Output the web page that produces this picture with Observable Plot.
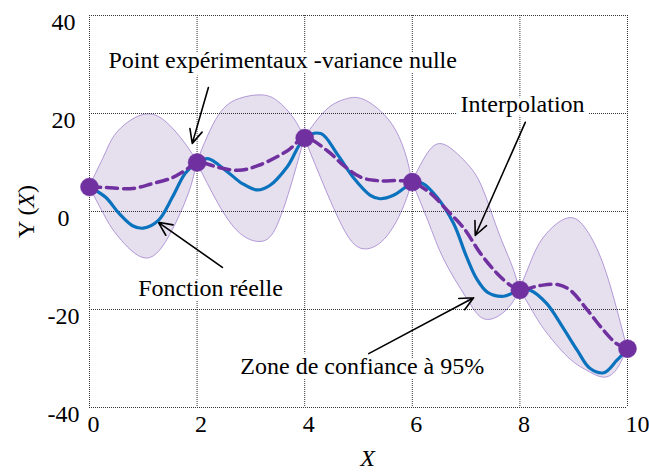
<!DOCTYPE html>
<html>
<head>
<meta charset="utf-8">
<script src="https://cdn.jsdelivr.net/npm/d3@7"></script>
<script src="https://cdn.jsdelivr.net/npm/@observablehq/plot@0.6"></script>
<style>
  html, body { margin: 0; padding: 0; background: white; }
  svg text { font-family: 'Liberation Serif', 'Times New Roman', serif; }
</style>
</head>
<body>
<div id="chart"></div>
<script>
// Experimental points
const pointsX = [0, 2, 4, 6, 8, 10];
const pointsY = [5, 10, 15, 6, -16, -28];

// Real function (blue)
const realX = [0,0.3,0.55,0.8,1.0,1.28,1.54,1.78,2,2.2,2.53,2.84,3.12,3.35,3.68,4,4.3,4.6,4.9,5.22,5.4,5.65,5.84,6,6.2,6.46,6.77,7.0,7.2,7.4,7.7,8,8.2,8.5,8.8,9.07,9.3,9.56,9.8,10];
const realY = [5,2.9,-0.4,-2.9,-3.4,-1.8,2.9,7.8,10,10.8,8.4,5.7,4.4,5.3,9.2,15,15.9,11.8,7,3.3,2.6,3.3,4.7,6,5.7,2.9,-2.5,-9,-13.8,-16.5,-17.3,-16,-16.1,-18.8,-23.7,-28.4,-32,-32.9,-30.4,-28];

// Interpolation (purple dashed)
const interpX = [0,0.3,0.8,1.17,1.54,1.78,2,2.4,2.77,3.14,3.68,4,4.42,4.72,5.04,5.35,5.78,6,6.34,6.65,6.95,7.27,7.58,7.83,8,8.38,8.7,8.94,9.26,9.56,9.8,10];
const interpY = [5,4.9,4.7,5.7,6.9,8.4,10,9,8.4,9.4,12.4,15,12.4,9.4,7,6.3,6.3,6,3.7,0.2,-3.3,-8.6,-12.7,-15.1,-16,-15.1,-14.9,-16.1,-20.2,-24.3,-27,-28];

// 95% confidence band (per segment between experimental points)
const bandSeg   = [0,0,0,0,0,0,0, 1,1,1,1,1,1,1, 2,2,2,2,2,2,2,2, 3,3,3,3,3,3,3,3, 4,4,4,4,4,4,4,4];
const bandX     = [0,0.3,0.55,1.05,1.5,1.85,2, 2,2.4,2.8,3.2,3.5,3.8,4, 4,4.4,4.75,5.05,5.4,5.7,5.9,6, 6,6.3,6.6,7.0,7.3,7.6,7.85,8, 8,8.2,8.45,8.9,9.25,9.55,9.8,10];
const bandUpper = [5,11.8,16.5,19.8,17.5,12.8,10, 10,19.5,23,23.7,22.5,19,15, 15,20.6,22.8,23,20.6,16.5,11,6, 6,12,13.6,10,5,-4,-10.8,-16, -16,-10.6,-5.3,-1.4,-3.9,-10.6,-19.6,-28];
const bandLower = [5,-1.2,-5.3,-9.6,-4.8,3.7,10, 10,1.5,-4.5,-6.2,-2.8,7,15, 15,4.3,-4,-7.6,-6.6,-2.4,2.5,6, 6,-2,-10,-17.5,-21.8,-21.5,-19,-16, -16,-19.6,-24,-29.8,-32.5,-33.9,-32.4,-28];

// Ticks
const xTicks = [0, 2, 4, 6, 8, 10];
const xTickLabels = ["0", "2", "4", "6", "8", "10"];
const yTicks = [-40, -20, 0, 20, 40];
const yTickLabels = ["-40", "-20", "0", "20", "40"];

// Annotations
const annText = ["Point expérimentaux -variance nulle", "Interpolation", "Fonction réelle", "Zone de confiance à 95%"];
const annX = [3.59, 8.05, 2.25, 5.07];
const annY = [30.8, 21.8, -15.7, -31.6];
const arrowX1 = [2.21, 8.10, 2.47, 5.19];
const arrowY1 = [25.3, 18.2, -11.4, -29];
const arrowX2 = [1.91, 7.17, 1.28, 7.14];
const arrowY2 = [13.9, -4.9, -2.2, -17.6];

// Axis titles
const xTitle = "X";
const yTitle = "Y (X)";

const points = pointsX.map((x, i) => ({x, y: pointsY[i]}));
const real = realX.map((x, i) => ({x, y: realY[i]}));
const interp = interpX.map((x, i) => ({x, y: interpY[i]}));
const band = bandX.map((x, i) => ({x, seg: bandSeg[i], lo: bandLower[i], hi: bandUpper[i]}));
const xt = xTicks.map((v, i) => ({v, t: xTickLabels[i]}));
const yt = yTicks.map((v, i) => ({v, t: yTickLabels[i]}));
const ann = annText.map((t, i) => ({t, x: annX[i], y: annY[i]}));
const arrows = arrowX1.map((x1, i) => ({x1, y1: arrowY1[i], x2: arrowX2[i], y2: arrowY2[i]}));

const FONT = "'Liberation Serif', 'Times New Roman', serif";
const FS = 24;

const plot = Plot.plot({
  width: 649,
  height: 473,
  marginTop: 15,
  marginBottom: 66,
  marginLeft: 89,
  marginRight: 22,
  style: {fontFamily: FONT, fontSize: FS + "px", background: "white", color: "black"},
  x: {domain: [0, 10], axis: null},
  y: {domain: [-40, 40], axis: null},
  marks: [
    Plot.areaY(band, {x: "x", y1: "lo", y2: "hi", z: "seg", curve: "natural",
      fill: "#e5dfee", stroke: "#a283cf", strokeWidth: 0.8}),
    Plot.gridX(xTicks, {stroke: "#333", strokeOpacity: 1, strokeWidth: 1, strokeDasharray: "1,1"}),
    Plot.gridY(yTicks, {stroke: "#333", strokeOpacity: 1, strokeWidth: 1, strokeDasharray: "1,1"}),
    Plot.text(ann, {x: "x", y: "y", text: "t", fontSize: FS, fontFamily: FONT, fill: "black",
      stroke: "white", strokeWidth: 9, paintOrder: "stroke"}),
    Plot.arrow(arrows, {x1: "x1", y1: "y1", x2: "x2", y2: "y2", stroke: "black",
      strokeWidth: 1.6, headLength: 14, headAngle: 50, bend: 0}),
    Plot.line(real, {x: "x", y: "y", curve: "catmull-rom", stroke: "#0b72bd", strokeWidth: 3.2}),
    Plot.line(interp, {x: "x", y: "y", curve: "catmull-rom", stroke: "#7030a0", strokeWidth: 3.5,
      strokeDasharray: "11,6"}),
    Plot.dot(points, {x: "x", y: "y", r: 9, fill: "#7030a0", stroke: "#7030a0", strokeWidth: 0.5}),
    Plot.text(xt, {x: "v", y: () => -40, text: "t", textAnchor: "start", dx: -2, dy: 17, fontSize: FS, fontFamily: FONT, fill: "black"}),
    Plot.text(yt, {x: () => 0, y: "v", text: "t", textAnchor: "middle", dx: -26, dy: 7, fontSize: FS, fontFamily: FONT, fill: "black"}),
    Plot.text([xTitle], {x: () => 5.17, y: () => -50.3, text: d => d, fontSize: FS, fontFamily: FONT, fontStyle: "italic", fill: "black"}),
    Plot.text([yTitle], {x: () => -1.18, y: () => 0, text: d => d, rotate: -90, fontSize: FS, fontFamily: FONT, fill: "black"})
  ]
});

d3.select(plot).selectAll("text").filter(function() { return this.textContent === yTitle; })
  .each(function() {
    const t = d3.select(this);
    t.text(null);
    t.append("tspan").text("Y (");
    t.append("tspan").attr("font-style", "italic").text("X");
    t.append("tspan").text(")");
  });

document.getElementById("chart").appendChild(plot);
</script>
</body>
</html>
